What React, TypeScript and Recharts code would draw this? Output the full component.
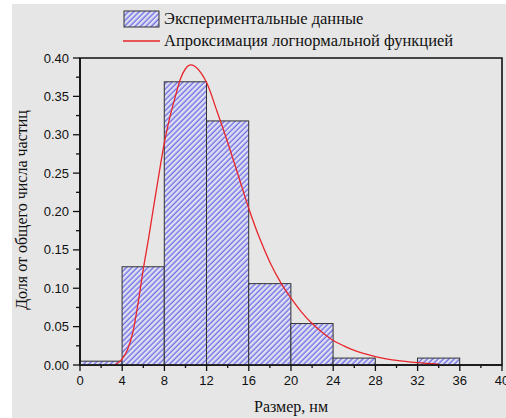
import {
  ComposedChart,
  Bar,
  Line,
  XAxis,
  YAxis,
  Legend,
  ReferenceArea,
} from "recharts";

// histogram bins (centre of each 4 nm bin) and fraction of particles
const binCenters = [2, 6, 10, 14, 18, 22, 26, 30, 34];
const binShares = [0.005, 0.128, 0.369, 0.318, 0.106, 0.054, 0.009, 0, 0.009];

// lognormal fit
const fitX = [3.3, 4, 4.5, 5, 5.5, 6, 6.5, 7, 7.5, 8, 8.5, 9, 9.5, 10, 10.5, 11, 11.5, 12, 13, 14, 15, 16, 17, 18, 19, 20, 21, 22, 23, 24, 25, 26, 28, 30, 32, 34];
const fitY = [0, 0.008, 0.02, 0.042, 0.08, 0.125, 0.165, 0.208, 0.25, 0.29, 0.322, 0.348, 0.372, 0.386, 0.391, 0.388, 0.38, 0.368, 0.33, 0.29, 0.247, 0.204, 0.166, 0.134, 0.108, 0.087, 0.069, 0.054, 0.042, 0.032, 0.025, 0.019, 0.011, 0.006, 0.003, 0.001];

const xTicks = [0, 2, 4, 6, 8, 10, 12, 14, 16, 18, 20, 22, 24, 26, 28, 30, 32, 34, 36, 38, 40];
const yTicks = [0, 0.025, 0.05, 0.075, 0.1, 0.125, 0.15, 0.175, 0.2, 0.225, 0.25, 0.275, 0.3, 0.325, 0.35, 0.375, 0.4];

const barData = binCenters.map((x, i) => ({ x, share: binShares[i] }));
const fitData = fitX.map((x, i) => ({ x, fit: fitY[i] }));

const W = 506;
const H = 418;
const LEFT = 80;
const RIGHT = 4;
const TOP = 58;
const BOTTOM = 53;
const plotWidth = W - LEFT - RIGHT;
const binWidthPx = (plotWidth / 40) * 4;

const SANS = "'Liberation Sans', Arial, sans-serif";
const SERIF = "'Liberation Serif', 'Times New Roman', serif";

function Hatch({ id }: { id: string }) {
  return (
    <pattern id={id} width="3.8" height="3.8" patternUnits="userSpaceOnUse" patternTransform="rotate(45)">
      <rect width="3.8" height="3.8" fill="#e0e0ee" />
      <line x1="1.2" y1="0" x2="1.2" y2="3.8" stroke="#6a6aea" strokeWidth="1.3" />
    </pattern>
  );
}

// bar keeps its centre and height from the scales, and spans the whole 4 nm bin
// eslint-disable-next-line @typescript-eslint/no-explicit-any
function BinShape({ x, y, width, height }: any) {
  if (!height || height <= 0) return null;
  const cx = x + width / 2;
  return (
    <rect
      x={cx - binWidthPx / 2}
      y={y}
      width={binWidthPx}
      height={height}
      fill="url(#hatchBars)"
      stroke="#333"
      strokeWidth={1}
    />
  );
}

// eslint-disable-next-line @typescript-eslint/no-explicit-any
function XTick({ x, y, payload }: any) {
  const major = payload.value % 4 === 0;
  return (
    <g>
      <line x1={x} y1={y} x2={x} y2={y + (major ? 6 : 3)} stroke="#111" strokeWidth={1.3} />
      {major && (
        <text x={x} y={y + 20} textAnchor="middle" fontFamily={SANS} fontSize={13} fill="#111">
          {payload.value}
        </text>
      )}
    </g>
  );
}

// eslint-disable-next-line @typescript-eslint/no-explicit-any
function YTick({ x, y, payload }: any) {
  const major = Math.round(payload.value * 1000) % 50 === 0;
  return (
    <g>
      <line x1={x - (major ? 7 : 4)} y1={y} x2={x} y2={y} stroke="#111" strokeWidth={1.3} />
      {major && (
        <text x={x - 11} y={y + 4.5} textAnchor="end" fontFamily={SANS} fontSize={13} fill="#111">
          {payload.value.toFixed(2)}
        </text>
      )}
    </g>
  );
}

function LegendBox() {
  return (
    <div style={{ fontFamily: SERIF, fontSize: 16.5, color: "#111", lineHeight: "20px" }}>
      <div style={{ display: "flex", alignItems: "center", height: 20 }}>
        <svg width={38} height={18} style={{ marginRight: 3 }}>
          <defs>
            <Hatch id="hatchLegend" />
          </defs>
          <rect x={1} y={1} width={35} height={16} fill="url(#hatchLegend)" stroke="#333" strokeWidth={1} />
        </svg>
        Экспериментальные данные
      </div>
      <div style={{ display: "flex", alignItems: "center", height: 20, marginTop: 2 }}>
        <svg width={38} height={18} style={{ marginRight: 3 }}>
          <line x1={0} y1={9} x2={37} y2={9} stroke="#e8262b" strokeWidth={1.3} />
        </svg>
        Апроксимация логнормальной функцией
      </div>
    </div>
  );
}

export default function App() {
  return (
    <div style={{ position: "fixed", left: 0, top: 0, width: W, height: H, background: "#fff" }}>
      <div style={{ position: "absolute", left: 12, top: 4, right: 0, bottom: 0, background: "#e6e6e6" }} />
      <div style={{ position: "absolute", left: 0, top: 0 }}>
        <ComposedChart
          width={W}
          height={H}
          data={barData}
          margin={{ top: TOP, right: RIGHT, bottom: 0, left: 0 }}
        >
          <defs>
            <Hatch id="hatchBars" />
          </defs>
          <XAxis
            dataKey="x"
            type="number"
            domain={[0, 40]}
            ticks={xTicks}
            interval={0}
            height={BOTTOM}
            tickSize={0}
            tickMargin={0}
            tickLine={false}
            tick={<XTick />}
            axisLine={{ stroke: "#111", strokeWidth: 1.6 }}
            allowDataOverflow
          />
          <YAxis
            type="number"
            domain={[0, 0.4]}
            ticks={yTicks}
            interval={0}
            width={LEFT}
            tickSize={0}
            tickMargin={0}
            tickLine={false}
            tick={<YTick />}
            axisLine={{ stroke: "#111", strokeWidth: 1.6 }}
            allowDataOverflow
          />
          <Legend
            layout="vertical"
            align="center"
            verticalAlign="middle"
            wrapperStyle={{ top: 9, left: 123, width: "auto" }}
            content={<LegendBox />}
          />
          <Bar
            dataKey="share"
            shape={<BinShape />}
            isAnimationActive={false}
          />
          <Line
            data={fitData}
            dataKey="fit"
            type="monotone"
            stroke="#e8262b"
            strokeWidth={1.3}
            dot={false}
            activeDot={false}
            isAnimationActive={false}
          />
          <ReferenceArea x1={0} x2={40} y1={0} y2={0.4} fill="none" stroke="#111" strokeWidth={1.6} />
        </ComposedChart>
      </div>
      <div
        style={{
          position: "absolute",
          left: 22,
          top: 210,
          transform: "translate(-50%, -50%) rotate(-90deg)",
          whiteSpace: "nowrap",
          fontFamily: SERIF,
          fontSize: 16,
          color: "#111",
        }}
      >
        Доля от общего числа частиц
      </div>
      <div
        style={{
          position: "absolute",
          left: LEFT + plotWidth / 2,
          top: 407,
          transform: "translate(-50%, -50%)",
          whiteSpace: "nowrap",
          fontFamily: SERIF,
          fontSize: 16,
          color: "#111",
        }}
      >
        Размер, нм
      </div>
    </div>
  );
}
